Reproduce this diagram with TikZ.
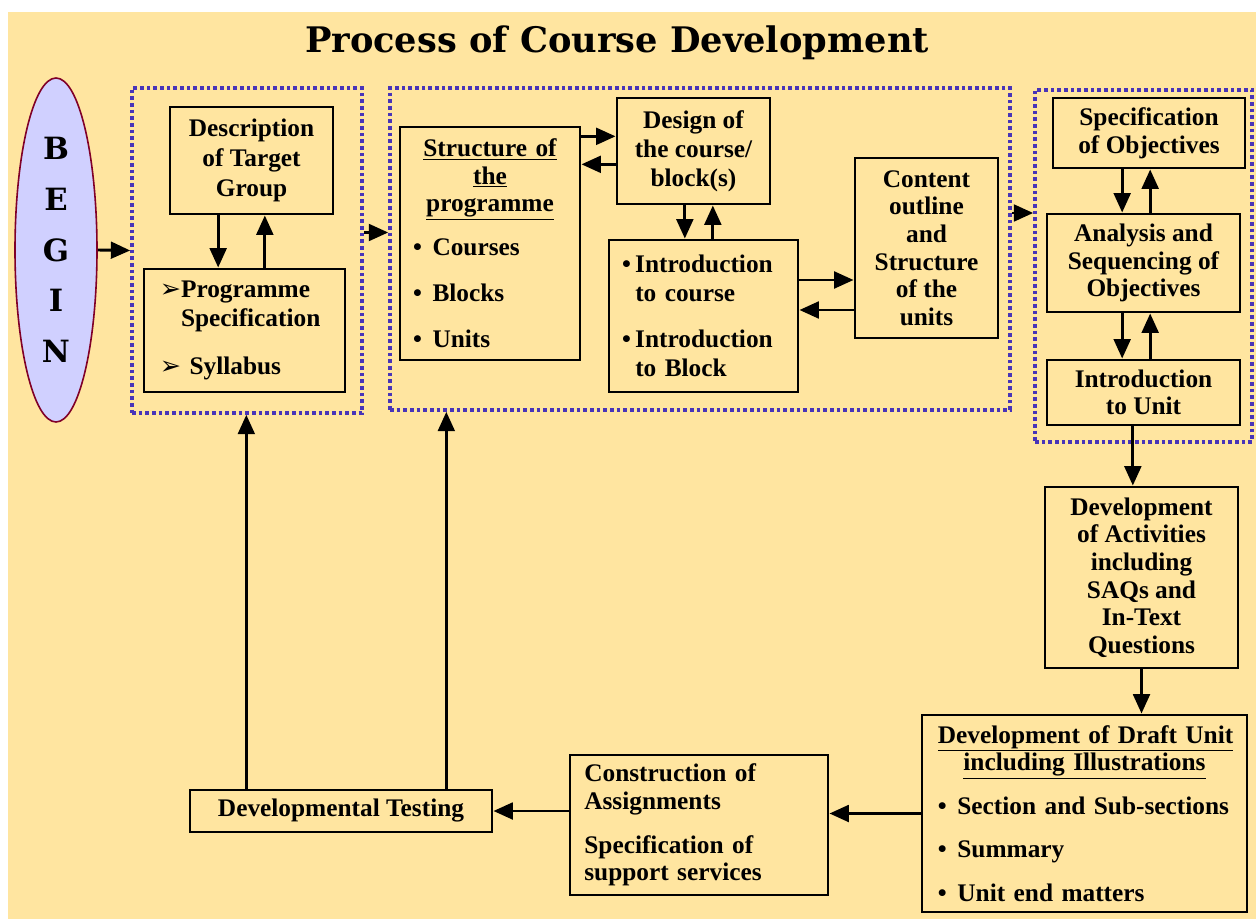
\documentclass[tikz,border=0pt]{standalone}
\usepackage{fontspec}
\setmainfont{Liberation Serif}
\newfontfamily\titlefont{DejaVu Serif}
\newfontfamily\symfont{DejaVu Sans}
\usetikzlibrary{shapes.geometric,arrows.meta}

\definecolor{bgyellow}{RGB}{255,229,160}
\definecolor{dotblue}{RGB}{72,52,184}
\definecolor{beginfill}{RGB}{208,208,255}
\definecolor{beginline}{RGB}{128,0,40}

\newcommand{\lline}[1]{\makebox[\hsize][l]{#1}}
\newcommand{\bul}{\textbullet\hspace{8pt}}

\tikzset{
  blk/.style={draw, line width=2.2pt, fill=bgyellow, inner sep=2pt, align=center,
    font=\fontsize{19}{20.7}\selectfont\bfseries},
  grp/.style={draw=dotblue, line width=2.7pt, dash pattern=on 2.7pt off 2.3pt, inner sep=0pt},
  arr/.style={line width=2.2pt, -{Triangle[length=14.5pt,width=12.5pt]}},
}

\begin{document}
\begin{tikzpicture}[x=0.75pt,y=0.75pt,yscale=-1]
\useasboundingbox (0,0) rectangle (1256,919);
%Background
\fill[bgyellow] (8,12) rectangle (1256,919);

% Text Node
\node[font=\titlefont\bfseries\fontsize{26.4}{30}\selectfont] (title) at (617,43) {Process of Course Development};

%Shape: Ellipse
\node[ellipse, draw=beginline, line width=1.2pt, fill=beginfill, minimum width=61.5pt, minimum height=258pt,
  inner sep=0pt, align=center, font=\titlefont\bfseries\fontsize{23}{38}\selectfont] (begin) at (56,250) {B\\E\\G\\I\\N};

%Dotted groups
\node[grp, minimum width=172.5pt, minimum height=243.75pt] (grp1) at (247,250.5) {};
\node[grp, minimum width=465pt, minimum height=241.5pt] (grp2) at (700,249) {};
\node[grp, minimum width=162.75pt, minimum height=264pt] (grp3) at (1143.5,266) {};

%Boxes
\node[blk, minimum width=122.25pt, minimum height=80.25pt] (desc) at (251.5,160.5) {Description\\[2pt]of Target\\[2pt]Group};
\node[blk, minimum width=150.75pt, minimum height=92.25pt, text width=127pt, align=left] (prog) at (244.5,330.5)
  {{\symfont\mdseries ➢}Programme\\[1pt]\hphantom{{\symfont\mdseries ➢}}Specification\\[16pt]{\symfont\mdseries ➢} Syllabus};
\node[blk, minimum width=135pt, minimum height=174.75pt, text width=115.5pt] (struct) at (490,243.5)
  {\underline{Structure of}\\\underline{the}\\\underline{programme}\\[12pt]\lline{\bul Courses}\\[14pt]\lline{\bul Blocks}\\[14pt]\lline{\bul Units}};
\node[blk, minimum width=114.75pt, minimum height=79.5pt] (design) at (693.5,151) {Design of\\[1pt]the course/\\[1pt]block(s)};
\node[blk, minimum width=141.75pt, minimum height=114pt, text width=122pt, align=left] (intro) at (703.5,316)
  {\textbullet\,Introduction\\[1pt]\hphantom{\textbullet\,}to course\\[14pt]\textbullet\,Introduction\\[1pt]\hphantom{\textbullet\,}to Block};
\node[blk, minimum width=107.25pt, minimum height=135pt] (content) at (926.5,248) {Content\\outline\\and\\Structure\\of the\\units};
\node[blk, minimum width=144pt, minimum height=52.5pt] (specobj) at (1149,133) {Specification\\of Objectives};
\node[blk, minimum width=144.75pt, minimum height=73.5pt] (analysis) at (1143.5,263) {Analysis and\\Sequencing of\\Objectives};
\node[blk, minimum width=144.75pt, minimum height=48.75pt] (unitintro) at (1143.5,392.5) {Introduction\\to Unit};
\node[blk, minimum width=144.75pt, minimum height=135.75pt] (activity) at (1141.5,577.5)
  {Development\\of Activities\\including\\SAQs and\\In-Text\\Questions};
\node[blk, minimum width=243.75pt, minimum height=147.75pt, text width=220pt] (draft) at (1084.5,813.5)
  {\underline{Development of Draft Unit}\\\underline{including Illustrations}\\[12pt]\lline{\bul Section and Sub-sections}\\[12pt]\lline{\bul Summary}\\[12pt]\lline{\bul Unit end matters}};
\node[blk, minimum width=193.5pt, minimum height=105pt, text width=172pt, align=left] (assign) at (699,825)
  {Construction of\\Assignments\\[12pt]Specification of\\support services};
\node[blk, minimum width=226.5pt, minimum height=31.5pt] (devtest) at (341,811) {Developmental Testing};

%Straight Lines
\draw[arr] (begin.east) -- (grp1.west);
\draw[arr] ([xshift=-25pt]desc.south) -- ([xshift=-25pt]desc.south |- prog.north);
\draw[arr] ([xshift=10pt]desc.south |- prog.north) -- ([xshift=10pt]desc.south);
\draw[arr] ([yshift=-13.5pt]grp1.east) -- ([yshift=-13.5pt]grp1.east -| grp2.west);
\draw[arr] ([yshift=-11pt]design.west -| struct.east) -- ([yshift=-11pt]design.west);
\draw[arr] ([yshift=10pt]design.west) -- ([yshift=10pt]design.west -| struct.east);
\draw[arr] ([xshift=-6.5pt]design.south) -- ([xshift=-6.5pt]design.south |- intro.north);
\draw[arr] ([xshift=14.5pt]design.south |- intro.north) -- ([xshift=14.5pt]design.south);
\draw[arr] ([yshift=-27pt]intro.east) -- ([yshift=-27pt]intro.east -| content.west);
\draw[arr] ([yshift=-4.5pt]intro.east -| content.west) -- ([yshift=-4.5pt]intro.east);
\draw[arr] ([yshift=-27pt]grp2.east) -- ([yshift=-27pt]grp2.east -| grp3.west);
\draw[arr] ([xshift=-16pt]analysis.north |- specobj.south) -- ([xshift=-16pt]analysis.north);
\draw[arr] ([xshift=5pt]analysis.north) -- ([xshift=5pt]analysis.north |- specobj.south);
\draw[arr] ([xshift=-16pt]analysis.south) -- ([xshift=-16pt]analysis.south |- unitintro.north);
\draw[arr] ([xshift=5pt]analysis.south |- unitintro.north) -- ([xshift=5pt]analysis.south);
\draw[arr] ([xshift=-8pt]unitintro.south) -- ([xshift=-8pt]unitintro.south |- activity.north);
\draw[arr] (activity.south) -- (activity.south |- draft.north);
\draw[arr] (draft.west) -- (draft.west -| assign.east);
\draw[arr] (devtest.east -| assign.west) -- (devtest.east);
\draw[arr] ([xshift=-71pt]devtest.north) -- ([xshift=-71pt]devtest.north |- grp1.south);
\draw[arr] ([xshift=79pt]devtest.north) -- ([xshift=79pt]devtest.north |- grp2.south);

\end{tikzpicture}
\end{document}
